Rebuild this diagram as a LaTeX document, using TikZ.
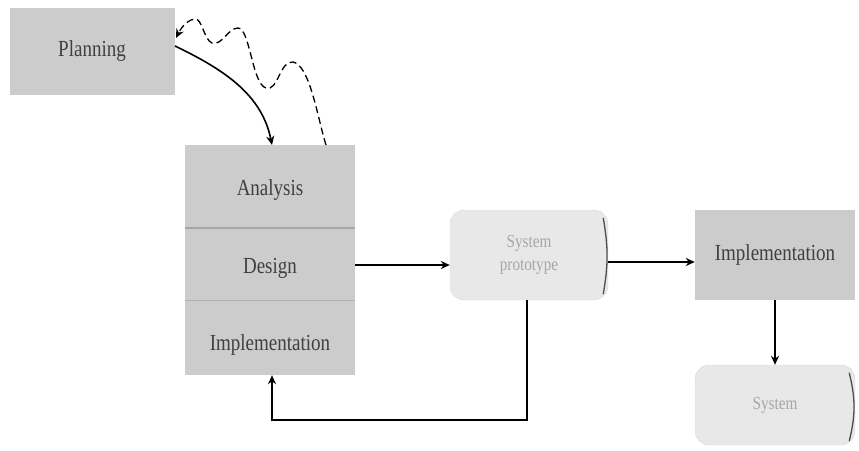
\documentclass[tikz,border=0pt]{standalone}
\usepackage{fontspec}
\setmainfont{Liberation Serif}
\usetikzlibrary{arrows.meta,positioning}
\begin{document}
\begin{tikzpicture}[x=1pt,y=-1pt,
  lbl/.style={font=\fontsize{20}{22}\selectfont, text=black!75, yscale=1.15, xscale=0.95},
  sqbox/.style={fill=black!20, inner sep=0pt},
  rdbox/.style={fill=black!9, draw=black!30, densely dotted, rounded corners=14pt, inner sep=0pt},
  conn/.style={draw=black, line width=1.6pt, -{Stealth[length=9pt,width=8pt]}},
  dconn/.style={draw=black, line width=1.3pt, dash pattern=on 7pt off 4pt, -{Stealth[length=9pt,width=8pt]}}
]
\useasboundingbox (0,0) rectangle (859,450);
% Planning
\node[sqbox, minimum width=165pt, minimum height=87pt] (plan) at (92,51) {};
\node[lbl] (plant) at (plan) {Planning};
% stacked box
\node[sqbox, minimum width=170pt, minimum height=230pt] (stack) at (270,260) {};
\draw[black!35, line width=1.2pt] (185,228) -- (355,228);
\draw[black!30, line width=0.8pt] (185,300) -- (355,300);
\node[lbl] (ana) at (270,190) {Analysis};
\node[lbl] (des) at (270,268) {Design};
\node[lbl] (imp1) at (270,345) {Implementation};
% system prototype
\node[rdbox, minimum width=158pt, minimum height=90pt] (proto) at (529,255) {};
\draw[black!70, line width=1.3pt] ([xshift=-5pt,yshift=-8pt]proto.north east) to[bend left=10] ([xshift=-5pt,yshift=6pt]proto.south east);
\node[lbl, text=black!35, align=center, font=\fontsize{16}{20}\selectfont] (protot) at (proto) {System\\prototype};
% implementation right
\node[sqbox, minimum width=160pt, minimum height=90pt] (imp2) at (775,255) {};
\node[lbl] (imp2t) at (imp2) {Implementation};
% system
\node[rdbox, minimum width=160pt, minimum height=80pt] (sys) at (775,405) {};
\draw[black!70, line width=1.3pt] ([xshift=-6pt,yshift=-8pt]sys.north east) to[bend left=14] ([xshift=-6pt,yshift=4pt]sys.south east);
\node[lbl, text=black!35, font=\fontsize{16}{20}\selectfont] (syst) at (sys) {System};
% connectors
\coordinate (pl1) at (175,46);
\coordinate (an1) at (272,145);
\draw[conn] (pl1) .. controls (225,70) and (262,95) .. (an1);
\coordinate (an2) at (326,145);
\coordinate (pl2) at (176,38);
\draw[dconn] (an2) .. controls (318,120) and (310,65) .. (293,62)
  .. controls (280,60) and (278,92) .. (266,88)
  .. controls (252,84) and (250,28) .. (238,28)
  .. controls (228,28) and (222,46) .. (212,43)
  .. controls (204,40) and (202,18) .. (195,19)
  .. controls (186,20) and (180,30) .. (pl2);
\draw[conn] (355,265) -- (proto.west |- 0,265);
\draw[conn] (proto.east |- 0,262) -- (imp2.west |- 0,262);
\coordinate (bl) at (527,420);
\coordinate (br) at (272,420);
\draw[conn] (proto.south -| 527,0) -- (bl) -- (br) -- (stack.south -| 272,0);
\draw[conn] (imp2.south) -- (sys.north);
\end{tikzpicture}
\end{document}
